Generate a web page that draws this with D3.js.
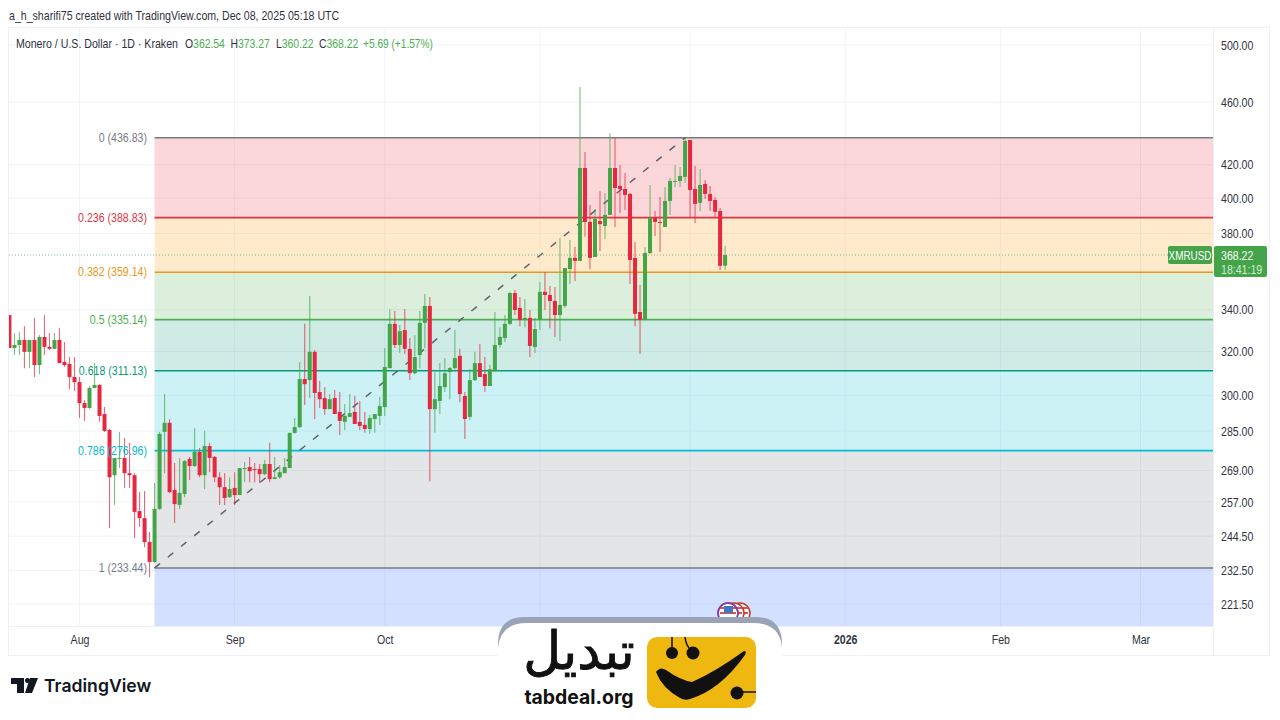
<!DOCTYPE html>
<html><head><meta charset="utf-8">
<script src="https://cdn.jsdelivr.net/npm/d3@7/dist/d3.min.js"></script>
<style>
html,body{margin:0;padding:0;background:#fff;overflow:hidden}
svg{display:block}
text{font-family:"Liberation Sans",sans-serif}
</style></head><body>
<svg id="c" width="1280" height="720"></svg>
<script>
const firstDay = "2025-07-18";
const opens = [337.4,321.6,323.0,325.4,319.8,325.4,313.7,326.8,322.1,321.2,325.4,315.1,314.2,308.3,306.0,296.8,294.7,303.4,304.7,292.1,285.4,267.2,273.6,274.0,268.0,267.2,253.6,251.0,242.4,235.5,254.4,284.6,288.4,261.5,255.9,260.0,273.6,270.8,276.4,267.2,278.8,274.4,266.4,262.6,258.8,262.3,259.6,269.6,270.4,269.6,269.6,267.6,271.6,265.7,266.4,268.0,270.0,284.2,286.6,307.4,306.9,319.8,301.6,299.0,294.2,299.0,293.0,288.8,290.9,293.0,288.8,287.5,285.8,290.0,291.3,295.1,312.3,333.1,323.0,330.1,321.2,310.0,318.3,333.6,341.9,294.2,297.7,303.8,310.5,312.3,317.9,299.9,290.9,306.9,314.6,309.6,304.3,310.9,323.0,326.3,333.1,348.4,340.9,335.0,336.0,322.1,335.0,349.0,347.4,344.4,337.4,341.9,360.8,366.7,365.1,418.0,386.4,367.2,386.9,384.1,390.4,418.0,407.2,405.4,402.5,366.7,338.9,335.0,369.3,388.6,386.4,383.6,398.4,409.6,410.2,412.6,435.4,405.4,397.3,408.4,402.5,399.0,392.6,362.54];
const highs = [337.4,328.7,329.1,332.0,325.4,336.0,327.7,337.4,328.7,328.7,331.0,324.4,317.4,317.4,308.3,298.1,304.3,314.6,305.1,295.1,285.8,274.0,284.6,282.1,280.1,268.0,260.7,261.1,246.0,264.2,284.6,300.7,290.0,272.0,274.0,273.2,274.4,286.2,278.0,285.0,280.1,274.8,268.4,268.0,266.4,268.4,270.0,272.4,274.4,272.0,271.6,273.2,280.1,274.4,271.2,274.0,284.2,290.4,315.1,333.1,346.9,320.7,306.5,303.8,300.7,302.5,301.6,296.4,300.7,299.9,297.7,293.0,291.7,292.1,299.4,321.6,340.4,339.4,332.6,340.4,326.3,327.7,339.4,347.9,346.4,310.5,314.6,316.9,312.8,330.1,321.2,301.6,311.8,319.8,323.5,317.4,313.7,338.9,331.5,337.4,348.9,349.9,346.4,345.4,339.9,336.0,354.1,359.2,352.0,351.5,377.5,361.3,376.4,372.5,470.3,427.8,396.1,393.8,404.2,403.1,439.9,436.7,419.8,415.0,403.1,375.3,352.5,372.5,407.8,392.6,400.7,406.6,412.0,419.8,418.6,436.83,435.4,419.3,417.4,410.8,407.2,400.7,394.4,373.27];
const lows = [321.6,318.3,318.3,312.3,312.3,308.3,309.6,318.3,320.7,321.2,314.6,312.8,302.9,302.1,290.4,289.2,294.2,303.4,288.8,284.6,247.4,255.9,270.0,262.3,262.3,243.8,247.8,240.6,230.4,235.1,254.0,268.0,260.4,249.2,254.4,258.8,265.3,270.4,266.4,261.9,268.4,264.5,255.9,255.9,258.5,255.9,259.6,264.5,264.5,264.5,264.2,267.2,264.5,265.7,265.7,268.0,270.0,283.8,286.2,296.0,299.0,290.0,294.7,291.7,294.2,292.1,283.3,285.4,290.9,287.9,285.4,284.2,283.8,284.2,287.5,291.3,312.3,321.6,319.3,318.8,306.9,309.6,312.3,321.6,264.9,284.2,292.1,301.6,298.5,311.8,297.2,281.7,289.6,306.5,308.3,301.6,304.3,310.9,321.6,324.4,332.6,337.4,332.0,331.5,317.4,319.3,330.1,339.9,331.0,326.8,324.9,340.9,353.0,354.6,365.1,378.1,360.8,367.2,370.4,376.9,390.4,383.6,391.5,393.2,353.0,332.0,318.8,335.0,368.8,378.6,369.9,383.6,390.4,406.6,406.6,409.0,388.6,385.8,392.6,399.6,392.6,389.2,360.3,360.22];
const closes = [321.6,323.0,325.4,319.8,325.4,313.7,326.8,322.1,321.2,325.4,314.6,313.7,308.3,306.0,296.8,294.7,303.4,304.7,291.3,285.0,266.4,274.0,274.0,268.0,267.2,253.3,251.0,242.4,235.5,254.4,283.8,288.4,260.7,256.2,260.4,272.8,270.8,276.4,267.2,278.8,274.0,266.4,262.6,258.5,261.9,259.6,270.0,270.0,268.8,269.2,267.6,271.6,265.7,266.4,268.4,270.4,284.2,286.6,307.4,305.1,319.8,301.2,298.5,294.2,298.5,292.1,289.2,291.3,292.5,287.9,287.1,285.8,290.4,292.1,295.5,312.8,333.1,323.0,329.6,321.2,310.0,317.4,333.6,341.9,294.2,298.5,304.3,310.0,312.3,316.9,300.7,290.0,306.9,314.6,308.3,304.3,311.8,323.0,326.8,333.1,348.4,339.9,335.0,336.0,322.6,330.6,349.0,347.4,344.4,337.4,342.4,361.3,366.7,365.1,418.0,386.4,366.7,388.1,385.2,390.4,418.0,406.0,405.4,401.9,365.6,338.0,335.0,369.3,388.6,386.4,385.8,398.4,410.2,410.2,413.2,434.8,404.8,396.7,407.8,402.5,398.4,392.1,362.5,368.22];

const fibLevels = ["0","0.236","0.382","0.5","0.618","0.786","1"];
const fibPrices = [436.83,388.83,359.14,335.14,311.13,276.96,233.44];
const fibColors = ["#787b86","#dc3545","#e8971a","#4caf50","#089981","#00bcd4","#787b86"];
const bandColors = ["#f23645","#ff9800","#4caf50","#089981","#00bcd4","#787b86","#2962ff"];
const priceTicks = [500,460,420,400,380,340,320,300,285,269,257,244.5,232.5,221.5];
const gridMonths = ["2025-08-01","2025-09-01","2025-10-01","2025-11-01","2025-12-01","2026-01-01","2026-02-01","2026-03-01"];
const monthLabels = ["2025-08-01","2025-09-01","2025-10-01","2026-01-01","2026-02-01","2026-03-01"];
const monthNames = ["Aug","Sep","Oct","2026","Feb","Mar"];
const fibStartDay = "2025-08-16", fibEndDay = "2025-11-30";
const header = "a_h_sharifi75 created with TradingView.com, Dec 08, 2025 05:18 UTC";
const title = "Monero / U.S. Dollar · 1D · Kraken";
const ohlcKeys = ["O","H","L","C"];
const ohlcVals = ["362.54","373.27","360.22","368.22"];
const change = "+5.69 (+1.57%)";
const lastPrice = 368.22;

const W=1213, L=9, T=28, B=626;
const UP="#43a548", DOWN="#e5283f", TXT="#2f3340";
const svg=d3.select("#c");
const parse=d3.utcParse("%Y-%m-%d");
const dates=opens.map((_,i)=>d3.utcDay.offset(parse(firstDay),i));
const x=d3.scaleUtc().domain([parse("2025-08-01"),parse("2026-03-01")]).range([79.5,1140.5]);
const y=d3.scaleLog().domain([500,221.5]).range([45,604]);

// Tighten Liberation Sans to the condensed look of the reference's UI font.
const SQ=0.815;
function squeeze(sel,f=SQ){
  sel.each(function(){
    const l=this.getComputedTextLength();
    this.setAttribute("textLength",l*f);
    this.setAttribute("lengthAdjust","spacingAndGlyphs");
  });
  return sel;
}

svg.append("defs").append("clipPath").attr("id","pl").append("rect").attr("x",L).attr("y",T).attr("width",W-L).attr("height",B-T);

// frame + grid
const plot=svg.append("g");
plot.append("rect").attr("x",L-.5).attr("y",27.5).attr("width",1261).attr("height",628).attr("fill","none").attr("stroke","#eef0f5");
plot.selectAll(".hg").data(priceTicks).join("line").attr("x1",L).attr("x2",W).attr("y1",d=>y(d)).attr("y2",d=>y(d)).attr("stroke","#f0f3fa");
plot.selectAll(".vg").data(gridMonths).join("line").attr("x1",d=>x(parse(d))).attr("x2",d=>x(parse(d))).attr("y1",T).attr("y2",B).attr("stroke","#f0f3fa");
plot.append("line").attr("x1",L).attr("x2",W).attr("y1",B+.5).attr("y2",B+.5).attr("stroke","#eef0f5");
plot.append("line").attr("x1",W+.5).attr("x2",W+.5).attr("y1",T).attr("y2",655).attr("stroke","#eef0f5");

// fib bands
const fx0=x(parse(fibStartDay));
const bandEdges=fibPrices.concat([y.invert(B)]);
svg.selectAll(".band").data(bandColors).join("rect")
  .attr("x",fx0).attr("width",W-fx0)
  .attr("y",(d,i)=>y(bandEdges[i])).attr("height",(d,i)=>y(bandEdges[i+1])-y(bandEdges[i]))
  .attr("fill",d=>d).attr("fill-opacity",.2);
svg.selectAll(".fl").data(fibPrices).join("line")
  .attr("x1",fx0).attr("x2",W).attr("y1",d=>y(d)).attr("y2",d=>y(d))
  .attr("stroke",(d,i)=>fibColors[i]).attr("stroke-width",1.6);
svg.append("line").attr("x1",fx0).attr("y1",y(fibPrices[6])).attr("x2",x(parse(fibEndDay))).attr("y2",y(fibPrices[0]))
  .attr("stroke","#5f626d").attr("stroke-width",1.5).attr("stroke-dasharray","7 10");

// last price dotted
svg.append("line").attr("x1",L).attr("x2",W).attr("y1",y(lastPrice)).attr("y2",y(lastPrice)).attr("stroke","#7fb883").attr("stroke-dasharray","1 2");

// candles
const cg=svg.append("g").attr("clip-path","url(#pl)");
const col=i=>closes[i]>=opens[i]?UP:DOWN;
cg.selectAll(".w").data(dates).join("line")
  .attr("x1",d=>x(d)).attr("x2",d=>x(d))
  .attr("y1",(d,i)=>y(highs[i])).attr("y2",(d,i)=>y(lows[i]))
  .attr("stroke",(d,i)=>col(i)).attr("stroke-opacity",.7).attr("stroke-width",1.1);
cg.selectAll(".b").data(dates).join("rect")
  .attr("x",d=>x(d)-2).attr("width",4)
  .attr("y",(d,i)=>y(Math.max(opens[i],closes[i])))
  .attr("height",(d,i)=>Math.max(1,Math.abs(y(opens[i])-y(closes[i]))))
  .attr("fill",(d,i)=>col(i));

// fib labels
squeeze(svg.selectAll(".fb").data(fibPrices).join("text")
  .attr("x",147).attr("y",d=>y(d)+4).attr("text-anchor","end").attr("font-size",13)
  .attr("fill",(d,i)=>fibColors[i])
  .text((d,i)=>`${fibLevels[i]} (${d.toFixed(2)})`));

// axes
const ya=svg.append("g").attr("transform",`translate(1213,0)`)
  .call(d3.axisRight(y).tickValues(priceTicks).tickSize(0).tickPadding(8).tickFormat(d3.format(".2f")));
ya.select(".domain").remove();
squeeze(ya.selectAll("text").attr("font-size",13).attr("fill",TXT).style("font-family",'"Liberation Sans",sans-serif'));
const xa=svg.append("g").attr("transform",`translate(0,${B})`)
  .call(d3.axisBottom(x).tickValues(monthLabels.map(parse)).tickSize(0).tickPadding(9).tickFormat((d,i)=>monthNames[i]));
xa.select(".domain").remove();
squeeze(xa.selectAll("text").attr("font-size",13).attr("fill",TXT).style("font-family",'"Liberation Sans",sans-serif')
  .attr("font-weight",(d,i)=>monthNames[i]==="2026"?"bold":"normal"));

// header
squeeze(svg.append("text").attr("x",9).attr("y",20).attr("font-size",13).attr("fill",TXT).text(header));
squeeze(svg.append("text").attr("x",16).attr("y",48).attr("font-size",13).attr("fill",TXT).text(title));
const keyX=[185,230.5,276,319];
ohlcKeys.forEach((k,i)=>{
  const t=svg.append("text").attr("x",keyX[i]).attr("y",48).attr("font-size",13).attr("fill",TXT);
  t.append("tspan").text(k);
  t.append("tspan").attr("fill","#4caf50").text(ohlcVals[i]);
  squeeze(t,0.8);
});
squeeze(svg.append("text").attr("x",363).attr("y",48).attr("font-size",13).attr("fill","#4caf50").text(change),0.78);

// price tag
const tagY=y(lastPrice);
svg.append("rect").attr("x",1168).attr("y",tagY-9).attr("width",44).attr("height",18).attr("rx",2).attr("fill",UP);
squeeze(svg.append("text").attr("x",1190).attr("y",tagY+4.5).attr("text-anchor","middle").attr("font-size",13).attr("fill","#fff").text("XMRUSD"),0.76);
svg.append("rect").attr("x",1214).attr("y",tagY-9).attr("width",53).attr("height",31).attr("rx",2).attr("fill",UP);
squeeze(svg.append("text").attr("x",1221).attr("y",tagY+4.5).attr("font-size",13).attr("fill","#fff").text(lastPrice.toFixed(2)));
squeeze(svg.append("text").attr("x",1221).attr("y",tagY+19).attr("font-size",13).attr("fill","#d4ecd5").text("18:41:19"));

// flags (economic event markers)
const flagX=[728,734,740];
const fg=svg.append("g");
flagX.slice().reverse().forEach(cx=>{
  const g=fg.append("g");
  g.append("circle").attr("cx",cx).attr("cy",613).attr("r",10).attr("fill","#fff").attr("stroke","#c0392b").attr("stroke-width",1.5);
  [608,613,618].forEach(sy=>g.append("rect").attr("x",cx-8).attr("y",sy-1).attr("width",16).attr("height",2).attr("fill","#d9534f"));
});
fg.append("circle").attr("cx",728).attr("cy",613).attr("r",10).attr("fill","none").attr("stroke","#7a3fb0").attr("stroke-width",1.5);
fg.append("rect").attr("x",724).attr("y",606).attr("width",9).attr("height",7).attr("fill","#3f78c9");

// Tabdeal watermark
svg.append("path").attr("d","M498 660 L498 644 Q498 617 525 617 L755 617 Q782 617 782 644 L782 660 Z").attr("fill","#9aa3b5");
svg.append("path").attr("d","M498 720 L498 648 Q500 623 527 623 L753 623 Q780 623 782 648 L782 720 Z").attr("fill","#fff");
svg.append("text").attr("x",579).attr("y",669).attr("text-anchor","middle").attr("direction","rtl")
  .attr("font-size",52).style("font-family",'"DejaVu Sans",sans-serif').attr("fill","#111").attr("stroke","#111").attr("stroke-width",.9).text("تبدیل");
svg.append("text").attr("x",579).attr("y",704).attr("text-anchor","middle")
  .attr("font-size",19.4).attr("font-weight",700).style("font-family",'Inter,sans-serif').attr("fill","#111").text("tabdeal.org");
svg.append("rect").attr("x",647).attr("y",637).attr("width",109).attr("height",71).attr("rx",10).attr("fill","#efb810");
const K="#111";
svg.append("path").attr("d","M672 637V650M685 637Q686 646 691 650M737 692H756").attr("fill","none").attr("stroke",K).attr("stroke-width",1.5);
[[672,653,6],[693,653,6.5],[737,693,6.5]].forEach(c=>svg.append("circle").attr("cx",c[0]).attr("cy",c[1]).attr("r",c[2]).attr("fill",K));
svg.append("path").attr("d","M656 672 Q660 666 666 670 Q680 680 692 682 Q715 672 744 651 Q747 651 745 655 Q720 690 690 699 Q685 701 680 698 Q662 688 656 672Z").attr("fill",K);

// TradingView logo
svg.append("path").attr("d","M11 678H24V693H17V684H11ZM30 678H38L32 693H25Z").attr("fill","#131722");
svg.append("circle").attr("cx",27.5).attr("cy",680.5).attr("r",2.5).attr("fill","#131722");
svg.append("text").attr("x",44).attr("y",692).attr("font-size",17.6).attr("font-weight",600).style("font-family",'Inter,sans-serif').attr("fill","#131722").text("TradingView");
</script>
</body></html>
